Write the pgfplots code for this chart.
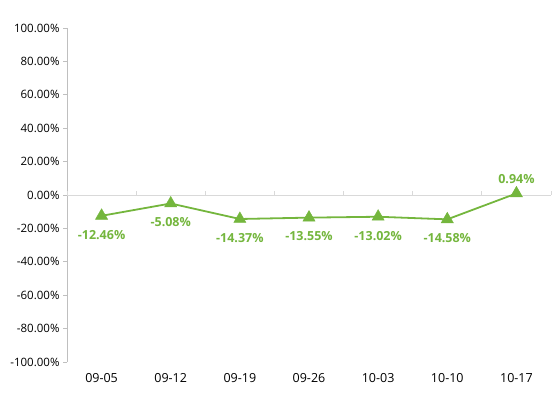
\documentclass[border=0pt]{standalone}
\usepackage{pgfplots}
\pgfplotsset{compat=1.18}
\usepackage{fontspec}
\setmainfont{Open Sans}
\definecolor{lg}{RGB}{116,182,61}
\definecolor{axg}{RGB}{191,191,191}
\definecolor{zg}{RGB}{217,217,217}
\begin{document}
\begin{tikzpicture}[x=1pt,y=1pt]
\path[use as bounding box] (0,0) rectangle (554,399);
\begin{axis}[
  at={(67pt,37pt)}, anchor=south west,
  scale only axis, width=484pt, height=334pt,
  xmin=-0.5, xmax=6.5, ymin=-100, ymax=100,
  /pgf/number format/assume math mode=true,
  axis y line*=left, axis x line*=bottom,
  x axis line style={draw=none},
  y axis line style={draw=axg, line width=0.8pt},
  xtick={0,...,6},
  xticklabels={09-05,09-12,09-19,09-26,10-03,10-10,10-17},
  x tick style={draw=none},
  xticklabel style={font=\fontsize{12.5}{14}\selectfont, yshift=-4pt},
  ytick={-100,-80,...,100},
  yticklabel={\pgfmathprintnumber[fixed,fixed zerofill,precision=2]{\tick}\%},
  yticklabel style={font=\fontsize{11.5}{13}\selectfont},
  y tick style={draw=axg, line width=0.8pt},
  tick align=outside, major tick length=4pt,
  clip=false,
  lbl/.style={draw=none, mark=none, point meta=y,
    nodes near coords={\pgfmathprintnumber[fixed,fixed zerofill,precision=2]{\pgfplotspointmeta}\%},
    nodes near coords style={font=\bfseries\fontsize{12.5}{14}\selectfont, text=lg, inner sep=0pt}},
]
\pgfplotsinvokeforeach{-0.5,0.5,1.5,2.5,3.5,4.5,5.5,6.5}{
  \draw[zg, line width=0.8pt] (axis cs:#1,0) -- ([yshift=4pt]axis cs:#1,0);
}
\draw[zg, line width=0.8pt] (axis cs:-0.5,0) -- (axis cs:6.5,0);
\addplot[color=lg, line width=1.8pt, mark=triangle*, mark size=7pt,
  mark options={fill=lg, draw=lg, line width=0.5pt},
] coordinates {
  (0,-12.46)
  (1,-5.08)
  (2,-14.37)
  (3,-13.55)
  (4,-13.02)
  (5,-14.58)
  (6,0.94)
};
\addplot[lbl, nodes near coords align={}, every node near coord/.append style={anchor=north, yshift=-14pt}] coordinates {
  (0,-12.46)
  (1,-5.08)
  (2,-14.37)
  (3,-13.55)
  (4,-13.02)
  (5,-14.58)
};
\addplot[lbl, nodes near coords align={}, every node near coord/.append style={anchor=south, yshift=10pt}] coordinates {
  (6,0.94)
};
\end{axis}
\end{tikzpicture}
\end{document}
